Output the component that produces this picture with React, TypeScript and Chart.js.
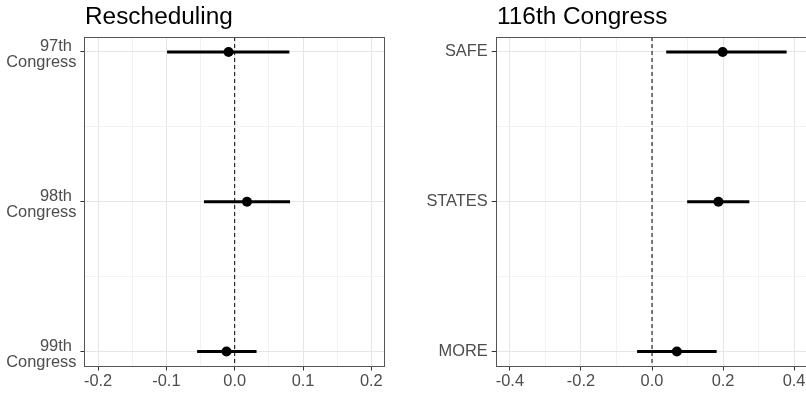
import React, { useEffect, useRef } from 'react';
import { Chart, registerables } from 'chart.js';

Chart.register(...registerables);

const FONT = '"Liberation Sans", Arial, Helvetica, sans-serif';

// ---------- Left panel: Rescheduling ----------
const leftTitle = 'Rescheduling';
const leftCategories: string[][] = [['97th ', 'Congress'], ['98th ', 'Congress'], ['99th ', 'Congress']];
const leftEstimates = [-0.009, 0.018, -0.012];
const leftLower = [-0.099, -0.045, -0.055];
const leftUpper = [0.080, 0.081, 0.032];
const leftXMajorTicks = [-0.2, -0.1, 0, 0.1, 0.2];
const leftXTickLabels = ['-0.2', '-0.1', '0.0', '0.1', '0.2'];
const leftXMinorTicks = [-0.15, -0.05, 0.05, 0.15];
const leftXLimits = [-0.22, 0.22];

// ---------- Right panel: 116th Congress ----------
const rightTitle = '116th Congress';
const rightCategories: string[] = ['SAFE', 'STATES', 'MORE'];
const rightEstimates = [0.199, 0.187, 0.070];
const rightLower = [0.040, 0.099, -0.042];
const rightUpper = [0.379, 0.274, 0.182];
const rightXMajorTicks = [-0.4, -0.2, 0, 0.2, 0.4];
const rightXTickLabels = ['-0.4', '-0.2', '0.0', '0.2', '0.4'];
const rightXMinorTicks = [-0.3, -0.1, 0.1, 0.3];
const rightXLimits = [-0.44, 0.44];

// shared y layout (category index positions, with 0.1 expansion)
const yLimits = [0.9, 3.1];
const yMinorTicks = [1.5, 2.5];
const referenceLine = 0;

const near = (a: number, b: number) => Math.abs(a - b) < 1e-9;

const framePlugin = {
  id: 'panelFrame',
  afterDraw(chart: any, _args: any, opts: any) {
    const { ctx, chartArea } = chart;
    const { left, top, right, bottom } = chartArea;
    ctx.save();
    ctx.strokeStyle = '#555555';
    ctx.lineWidth = 1;
    const l = Math.round(left) + 0.5;
    const t = Math.round(top) + 0.5;
    const r = Math.round(right) - 0.5;
    const b = Math.round(bottom) - 0.5;
    ctx.strokeRect(l, t, r - l, b - t);
    if (opts && opts.text) {
      ctx.fillStyle = '#000000';
      ctx.font = `24.4px ${FONT}`;
      ctx.textAlign = 'left';
      ctx.textBaseline = 'alphabetic';
      ctx.fillText(opts.text, Math.round(left) + 1, 24);
    }
    ctx.restore();
  },
};

type PanelProps = {
  title: string;
  categories: (string | string[])[];
  estimates: number[];
  lower: number[];
  upper: number[];
  majorTicks: number[];
  tickLabels: string[];
  minorTicks: number[];
  limits: number[];
  yAxisWidth: number;
  width: number;
  left: number;
  padRight: number;
  yLabelOffset: number;
};

function Panel(p: PanelProps) {
  const ref = useRef<HTMLCanvasElement | null>(null);
  useEffect(() => {
    if (!ref.current) return;
    const yMajor = p.categories.map((_, i) => i + 1);
    const isMajorX = (v: number) => p.majorTicks.some((m) => near(m, v));
    const isMajorY = (v: number) => yMajor.some((m) => near(m, v));
    const datasets: any[] = [
      {
        type: 'line',
        data: [
          { x: referenceLine, y: yLimits[0] },
          { x: referenceLine, y: yLimits[1] },
        ],
        borderColor: '#000000',
        borderWidth: 1,
        borderDash: [4, 3],
        pointRadius: 0,
        fill: false,
      },
      ...p.categories.map((_, i) => ({
        type: 'line',
        data: [
          { x: p.lower[i], y: i + 1 },
          { x: p.upper[i], y: i + 1 },
        ],
        borderColor: '#000000',
        borderWidth: 3,
        pointRadius: 0,
        fill: false,
      })),
      {
        type: 'scatter',
        data: p.categories.map((_, i) => ({ x: p.estimates[i], y: i + 1 })),
        backgroundColor: '#000000',
        borderColor: '#000000',
        borderWidth: 0,
        pointRadius: 5,
      },
    ];
    const chart = new Chart(ref.current, {
      type: 'scatter',
      data: { datasets },
      plugins: [framePlugin as any],
      options: {
        animation: false,
        responsive: false,
        layout: { padding: { top: 37, bottom: 0, left: 0, right: p.padRight } },
        plugins: {
          legend: { display: false },
          tooltip: { enabled: false },
          title: { display: false },
          panelFrame: { text: p.title },
        } as any,
        scales: {
          x: {
            type: 'linear',
            min: p.limits[0],
            max: p.limits[1],
            afterBuildTicks: (s: any) => {
              s.ticks = [...p.majorTicks, ...p.minorTicks]
                .sort((a, b) => a - b)
                .map((v) => ({ value: v }));
            },
            afterFit: (s: any) => {
              s.height = 26.5;
            },
            ticks: {
              autoSkip: false,
              maxRotation: 0,
              padding: 1,
              color: '#4d4d4d',
              font: { family: FONT, size: 16.4 },
              callback: (v: any) => {
                const k = p.majorTicks.findIndex((m) => near(m, Number(v)));
                return k >= 0 ? p.tickLabels[k] : '';
              },
            },
            grid: {
              lineWidth: 1,
              tickLength: 4,
              color: (c: any) => (c.tick && isMajorX(c.tick.value) ? '#e6e6e6' : '#f2f2f2'),
              tickColor: (c: any) => (c.tick && isMajorX(c.tick.value) ? '#333333' : 'rgba(0,0,0,0)'),
            },
            border: { display: false },
          },
          y: {
            type: 'linear',
            min: yLimits[0],
            max: yLimits[1],
            reverse: true,
            afterBuildTicks: (s: any) => {
              s.ticks = [...yMajor, ...yMinorTicks]
                .sort((a, b) => a - b)
                .map((v) => ({ value: v }));
            },
            afterFit: (s: any) => {
              s.width = p.yAxisWidth;
            },
            ticks: {
              autoSkip: false,
              padding: 4,
              labelOffset: p.yLabelOffset,
              color: '#4d4d4d',
              font: { family: FONT, size: 16.4, lineHeight: 0.98 },
              callback: (v: any) => {
                const k = yMajor.findIndex((m) => near(m, Number(v)));
                return k >= 0 ? (p.categories[k] as any) : '';
              },
            },
            grid: {
              lineWidth: 1,
              tickLength: 4,
              color: (c: any) => (c.tick && isMajorY(c.tick.value) ? '#e6e6e6' : '#f2f2f2'),
              tickColor: (c: any) => (c.tick && isMajorY(c.tick.value) ? '#333333' : 'rgba(0,0,0,0)'),
            },
            border: { display: false },
          },
        },
      } as any,
    });
    return () => chart.destroy();
  }, []);
  return (
    <canvas
      ref={ref}
      width={p.width}
      height={393}
      style={{ position: 'absolute', left: p.left, top: 0, width: p.width, height: 393 }}
    />
  );
}

export default function App() {
  return (
    <div
      style={{
        position: 'fixed',
        left: 0,
        top: 0,
        width: 806,
        height: 393,
        overflow: 'hidden',
        background: '#ffffff',
      }}
    >
      <Panel
        title={leftTitle}
        categories={leftCategories}
        estimates={leftEstimates}
        lower={leftLower}
        upper={leftUpper}
        majorTicks={leftXMajorTicks}
        tickLabels={leftXTickLabels}
        minorTicks={leftXMinorTicks}
        limits={leftXLimits}
        yAxisWidth={84.4}
        width={400}
        left={0}
        padRight={15}
        yLabelOffset={2.5}
      />
      <Panel
        title={rightTitle}
        categories={rightCategories}
        estimates={rightEstimates}
        lower={rightLower}
        upper={rightUpper}
        majorTicks={rightXMajorTicks}
        tickLabels={rightXTickLabels}
        minorTicks={rightXMinorTicks}
        limits={rightXLimits}
        yAxisWidth={95.7}
        width={424}
        left={400}
        padRight={15.7}
        yLabelOffset={0}
      />
    </div>
  );
}
